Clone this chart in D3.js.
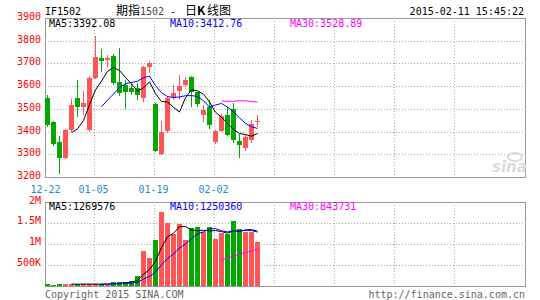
<!DOCTYPE html>
<html>
<head>
<meta charset="utf-8">
<script src="https://cdn.jsdelivr.net/npm/d3@7"></script>
<style>
  body { margin: 0; background: #fff; }
  svg text { font-family: "DejaVu Sans Mono", monospace; font-size: 10px; }
</style>
</head>
<body>
<script>
const dates = ["12-22","12-23","12-24","12-25","12-26","12-29","12-30","12-31","01-05","01-06",
  "01-07","01-08","01-09","01-12","01-13","01-14","01-15","01-16","01-19","01-20",
  "01-21","01-22","01-23","01-26","01-27","01-28","01-29","01-30","02-02","02-03",
  "02-04","02-05","02-06","02-09","02-10","02-11"];

const open  = [3550,3441,3353,3284,3406,3547,3509,3406,3638,3722,3715,3734,3618,3604,3591,3590,3548,3685,3521,3303,
  3401,3553,3579,3604,3641,3575,3475,3506,3352,3401,3472,3501,3360,3328,3365,3441];
const high  = [3562,3447,3380,3410,3543,3629,3578,3645,3820,3762,3738,3740,3766,3629,3612,3612,3690,3712,3525,3447,
  3557,3604,3648,3641,3644,3575,3516,3538,3405,3479,3506,3525,3391,3390,3452,3471];
const low   = [3420,3335,3212,3278,3400,3465,3475,3400,3630,3663,3685,3605,3556,3501,3560,3540,3531,3659,3310,3298,
  3395,3538,3538,3598,3509,3506,3443,3413,3345,3398,3380,3350,3285,3315,3350,3418];
const close = [3428,3344,3284,3406,3516,3509,3526,3638,3729,3710,3722,3612,3571,3575,3573,3559,3685,3703,3315,3399,
  3549,3568,3600,3629,3575,3523,3497,3428,3401,3468,3387,3362,3340,3377,3432,3448];

const volume = [42000,18000,38000,36000,35000,31000,33000,34000,36000,30000,37000,75000,91000,91000,116000,224000,
  824000,655000,1088000,1767000,1503000,1224000,1472000,1088000,1368000,1400000,1287000,1400000,1119000,1248000,
  1224000,1544000,1352000,1287000,1287000,1040000];

const priceTicks = [3200,3300,3400,3500,3600,3700,3800,3900];
const volTicks = [500000,1000000,1500000,2000000];
const volTickLabels = ["500K","1M","1.5M","2M"];
const dateTickIdx = [0,8,18,28];
const gridIdx = [8,18,28,38,48,58,68];

const priceMA = ["MA5:3392.08","MA10:3412.76","MA30:3528.89"];
const volMA = ["MA5:1269576","MA10:1250360","MA30:843731"];
const maPeriods = [5,10,30];
const maColors = ["#000000","#0000ff","#ff00ff"];

const RED = "#ff5555", GREEN = "#00a800", GRID = "#aaaaaa", BORDER = "#999999";

const svg = d3.select("body").append("svg").attr("width",540).attr("height",300);

const x = d3.scaleLinear().domain([0,80]).range([45,525]);
const y = d3.scaleLinear().domain([3200,3900]).range([177,18]);
const yv = d3.scaleLinear().domain([0,2000000]).range([285.5,202]);

function movingAvg(arr, n) {
  return arr.map((_, i) => i < n - 1 ? null : d3.mean(arr.slice(i - n + 1, i + 1)));
}

function panel(ys, ticks) {
  const g = svg.append("g").attr("shape-rendering","crispEdges");
  g.selectAll("line.h").data(ticks.slice(1, -1)).enter().append("line")
    .attr("x1",45).attr("x2",525).attr("y1",d => Math.round(ys(d))+0.5).attr("y2",d => Math.round(ys(d))+0.5)
    .attr("stroke",GRID).attr("stroke-dasharray","1,2");
  g.selectAll("line.v").data(gridIdx).enter().append("line")
    .attr("x1",d => x(d)+1.5).attr("x2",d => x(d)+1.5)
    .attr("y1",ys.range()[1]).attr("y2",ys.range()[0])
    .attr("stroke",GRID).attr("stroke-dasharray","1,2");
  g.append("rect").attr("x",45.5).attr("y",Math.round(ys.range()[1])+0.5)
    .attr("width",480).attr("height",Math.round(ys.range()[0]) - Math.round(ys.range()[1]))
    .attr("fill","none").attr("stroke",BORDER);
}

panel(y, priceTicks);
panel(yv, [0].concat(volTicks));

// y labels
svg.append("g").selectAll("text").data(priceTicks).enter().append("text")
  .attr("x",41).attr("y",d => y(d)+2).attr("text-anchor","end").attr("fill","#ff0000").text(d => d);
svg.append("g").selectAll("text").data(volTicks).enter().append("text")
  .attr("x",41).attr("y",d => yv(d)+1.5).attr("text-anchor","end").attr("fill","#ff0000")
  .text((d, i) => volTickLabels[i]);

// date labels
const xAxis = d3.axisBottom(x).tickValues(dateTickIdx).tickFormat(i => dates[i]).tickSize(0);
const ax = svg.append("g").attr("transform","translate(0,183)").call(xAxis);
ax.select(".domain").remove();
ax.selectAll("text").attr("fill","#1a8ad4").attr("font-family","DejaVu Sans Mono, monospace")
  .attr("font-size",10).attr("dy","0.7em");

// candles
const idx = d3.range(dates.length);
const up = i => close[i] >= open[i];
const cg = svg.append("g").attr("shape-rendering","crispEdges");
cg.selectAll("rect.wick").data(idx).enter().append("rect")
  .attr("x",i => x(i)+2).attr("width",1)
  .attr("y",i => y(high[i])).attr("height",i => y(low[i]) - y(high[i]))
  .attr("fill",i => up(i) ? RED : GREEN);
cg.selectAll("rect.body").data(idx).enter().append("rect")
  .attr("x",i => x(i)).attr("width",5)
  .attr("y",i => y(Math.max(open[i],close[i])))
  .attr("height",i => Math.max(1, Math.abs(y(open[i]) - y(close[i]))))
  .attr("fill",i => up(i) ? RED : GREEN);

// volume bars
svg.append("g").attr("shape-rendering","crispEdges")
  .selectAll("rect").data(idx).enter().append("rect")
  .attr("x",i => x(i)).attr("width",5)
  .attr("y",i => yv(volume[i])).attr("height",i => yv(0) - yv(volume[i]))
  .attr("fill",i => up(i) ? RED : GREEN);

// moving average lines
maPeriods.forEach((n, k) => {
  const pm = movingAvg(close, n), vm = movingAvg(volume, n);
  const lp = d3.line().defined(i => pm[i] !== null).x(i => x(i)+2.5).y(i => y(pm[i]));
  const lv = d3.line().defined(i => vm[i] !== null).x(i => x(i)+2.5).y(i => yv(vm[i]));
  svg.append("path").attr("d",lp(idx)).attr("fill","none").attr("stroke",maColors[k]).attr("stroke-width",1);
  svg.append("path").attr("d",lv(idx)).attr("fill","none").attr("stroke",maColors[k]).attr("stroke-width",1);
});

// MA labels
const maX = [49,170,290];
svg.append("g").selectAll("text").data(priceMA).enter().append("text")
  .attr("x",(d, i) => maX[i]).attr("y",27).attr("fill",(d, i) => maColors[i]).text(d => d);
svg.append("g").selectAll("text").data(volMA).enter().append("text")
  .attr("x",(d, i) => maX[i]).attr("y",210).attr("fill",(d, i) => maColors[i]).text(d => d);

// header
svg.append("text").attr("x",45).attr("y",15).attr("fill","#000").text("IF1502");
const cjk = "'Noto Sans CJK SC', sans-serif";
svg.append("text").attr("x",116).attr("y",15).style("font-family",cjk).style("font-size","12px").text("期指");
svg.append("text").attr("x",140).attr("y",15).attr("fill","#444").text("1502");
svg.append("text").attr("x",170).attr("y",15).attr("fill","#000").text("-");
svg.append("text").attr("x",185).attr("y",15).style("font-family",cjk).style("font-size","12px").text("日");
svg.append("text").attr("x",197).attr("y",15).style("font-family",cjk).style("font-size","12px")
  .style("font-weight","bold").text("K");
svg.append("text").attr("x",207).attr("y",15).style("font-family",cjk).style("font-size","12px").text("线图");
svg.append("text").attr("x",524).attr("y",15).attr("text-anchor","end").attr("fill","#000").text("2015-02-11 15:45:22");

// watermark
svg.append("text").attr("x",492).attr("y",172).style("font-family","'DejaVu Sans', sans-serif")
  .style("font-size","15px").style("font-style","italic").style("font-weight","bold")
  .attr("fill","#dcdcdc").text("sina");
svg.append("ellipse").attr("cx",515).attr("cy",157).attr("rx",7).attr("ry",4)
  .attr("fill","none").attr("stroke","#dcdcdc").attr("stroke-width",2);

// footer
svg.append("text").attr("x",45).attr("y",298).attr("fill","#666").text("Copyright 2015 SINA.COM");
svg.append("text").attr("x",525).attr("y",298).attr("text-anchor","end").attr("fill","#666").text("http://finance.sina.com.cn");
</script>
</body>
</html>
